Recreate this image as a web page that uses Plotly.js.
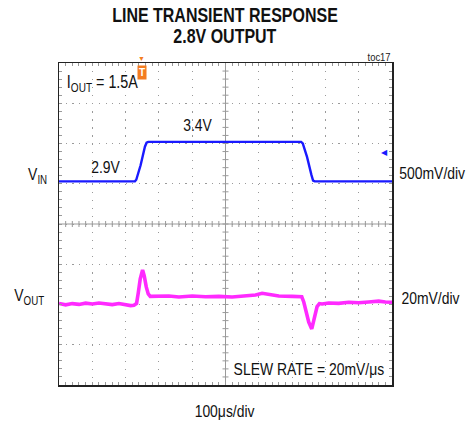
<!DOCTYPE html>
<html>
<head>
<meta charset="utf-8">
<script src="https://cdn.plot.ly/plotly-3.0.1.min.js"></script>
<style>
html,body{margin:0;padding:0;background:#fff;}
#chart{width:472px;height:422px;}
.narrow-text{transform-box:fill-box;transform-origin:center;transform:scaleX(0.82);}
</style>
</head>
<body>
<div id="chart"></div>
<script>
// Time axis (microseconds), 100 us/div, 10 divisions
const timeRange = [0, 1000];
// VIN trace (volts)
const vinTime = [0, 100, 200, 228, 232, 245, 258, 263, 268, 400, 500, 600, 727, 732, 745, 758, 763, 768, 900, 1000];
const vinVolts = [2.90, 2.90, 2.90, 2.90, 2.92, 3.10, 3.33, 3.38, 3.39, 3.39, 3.39, 3.39, 3.39, 3.37, 3.20, 2.98, 2.91, 2.90, 2.90, 2.90];
// VOUT trace (mV deviation from 2.8V baseline)
const voutTime = [0, 20, 40, 60, 80, 100, 120, 140, 160, 180, 200, 215, 225, 233, 238, 244, 251, 256, 262, 268, 274, 285, 300, 330, 360, 400, 440, 480, 520, 560, 590, 610, 630, 660, 700, 729, 735, 742, 750, 759, 765, 770, 775, 782, 790, 810, 840, 870, 900, 930, 960, 980, 1000];
const voutMv = [0.3, -0.4, 0.2, -0.2, 0.4, 0.0, 0.5, 0.0, -0.3, 0.2, -0.5, -0.8, -0.6, 0.3, 5.5, 12.5, 16.9, 14.0, 8.5, 5.0, 3.8, 3.9, 3.6, 4.0, 3.5, 4.0, 3.6, 3.8, 3.5, 3.9, 4.5, 5.3, 4.6, 4.0, 3.8, 3.6, 1.0, -4.0, -9.0, -12.4, -8.5, -4.0, -1.3, 0.2, 0.0, 0.5, 0.3, 0.9, 0.6, 1.0, 1.4, 1.0, 0.9];
// Axis scales (per division)
const vinPerDiv = 0.5;   // 500mV/div
const voutPerDiv = 20;   // 20mV/div
const vinCenter = 2.37;  // value at screen centre
const voutCenter = 39.75;
const triggerTime = 248;

const font = "Liberation Sans, Arial, sans-serif";
const gridCol = "#9a9a9a";
const textCol = "#111";

const traces = [
  {x: vinTime, y: vinVolts, xaxis: "x", yaxis: "y2", mode: "lines", line: {color: "#1a1aff", width: 2.4}, hoverinfo: "skip"},
  {x: voutTime, y: voutMv, xaxis: "x", yaxis: "y3", mode: "lines", line: {color: "#ff2aff", width: 3.6}, hoverinfo: "skip"}
];

// centre graticule cross with small ticks every 1/5 division
const shapes = [
  {type: "line", xref: "x", yref: "paper", x0: 500, x1: 500, y0: 0, y1: 1, line: {color: gridCol, width: 1}, layer: "below"},
  {type: "line", xref: "paper", yref: "y", x0: 0, x1: 1, y0: 0, y1: 0, line: {color: gridCol, width: 1}, layer: "below"}
];
for (let t = 20; t < 1000; t += 20) {
  shapes.push({type: "line", xref: "x", yref: "y", ysizemode: "pixel", yanchor: 0, x0: t, x1: t, y0: -3, y1: 3, line: {color: gridCol, width: 1}, layer: "below"});
}
for (let d = -3.8; d < 4; d += 0.2) {
  shapes.push({type: "line", xref: "x", yref: "y", xsizemode: "pixel", xanchor: 500, x0: -3, x1: 3, y0: d, y1: d, line: {color: gridCol, width: 1}, layer: "below"});
}

const ann = (text, x, y, size, extra) => Object.assign({text: text, xref: "paper", yref: "paper", x: x, y: y, xanchor: "center", yanchor: "middle", showarrow: false, font: {family: font, size: size, color: textCol}}, extra || {});

const layout = {
  width: 472, height: 422,
  margin: {l: 59, r: 80, t: 63, b: 37},
  paper_bgcolor: "#fff", plot_bgcolor: "#fff",
  showlegend: false,
  title: {
    text: "LINE TRANSIENT RESPONSE",
    font: {family: font, size: 19.5, color: textCol, weight: "bold"},
    x: 225 / 472, xref: "container", xanchor: "center",
    y: 1 - 15 / 422, yref: "container", yanchor: "middle"
  },
  xaxis: {
    range: timeRange, dtick: 100, tick0: 0,
    showgrid: true, gridcolor: gridCol, griddash: "1.2px,6.85px", gridwidth: 1,
    showline: true, linecolor: "#222", linewidth: 1.5, mirror: "allticks",
    ticks: "inside", ticklen: 3, tickcolor: gridCol,
    minor: {dtick: 20, ticks: "inside", ticklen: 3, tickcolor: gridCol, showgrid: false},
    showticklabels: false, zeroline: false, fixedrange: true
  },
  yaxis: {
    range: [-4, 4], dtick: 1, tick0: 0,
    showgrid: true, gridcolor: gridCol, griddash: "1.2px,5.45px", gridwidth: 1,
    showline: true, linecolor: "#222", linewidth: 1.5, mirror: "allticks",
    ticks: "inside", ticklen: 3, tickcolor: gridCol,
    minor: {dtick: 0.2, ticks: "inside", ticklen: 3, tickcolor: gridCol, showgrid: false},
    showticklabels: false, zeroline: false, fixedrange: true
  },
  yaxis2: {overlaying: "y", range: [vinCenter - 4 * vinPerDiv, vinCenter + 4 * vinPerDiv], visible: false, fixedrange: true},
  yaxis3: {overlaying: "y", range: [voutCenter - 4 * voutPerDiv, voutCenter + 4 * voutPerDiv], visible: false, fixedrange: true},
  shapes: shapes,
  annotations: [
    ann("<b>2.8V OUTPUT</b>", (225 - 59) / 333, (385 - 36) / 322, 19.5),
    ann("toc17", (379 - 59) / 333, (385 - 57) / 322, 11, {font: {family: font, size: 11.5, color: "#222"}}),
    ann("I<sub>OUT</sub> = 1.5A", (102 - 59) / 333, (385 - 84) / 322, 17.5),
    ann("3.4V", (198 - 59) / 333, (385 - 125) / 322, 17),
    ann("2.9V", (105.5 - 59) / 333, (385 - 167.5) / 322, 17),
    ann("V<sub>IN</sub>", (37 - 59) / 333, (385 - 176) / 322, 17),
    ann("500mV/div", (432 - 59) / 333, (385 - 173) / 322, 17),
    ann("V<sub>OUT</sub>", (29 - 59) / 333, (385 - 297) / 322, 17),
    ann("20mV/div", (431 - 59) / 333, (385 - 298) / 322, 17),
    ann("SLEW RATE = 20mV/μs", (308.5 - 59) / 333, (385 - 369) / 322, 17),
    ann("100μs/div", (225 - 59) / 333, (385 - 411) / 322, 17),
    {text: "<b>T</b>", xref: "x", yref: "paper", x: triggerTime, y: 0.995, xanchor: "center", yanchor: "top", showarrow: false, bgcolor: "#f47c20", borderpad: 1, font: {family: font, size: 10, color: "#fff"}},
    {text: "▼", xref: "x", yref: "paper", x: triggerTime, y: 0.998, xanchor: "center", yanchor: "bottom", showarrow: false, font: {family: font, size: 7, color: "#f47c20"}},
    {text: "◀", xref: "paper", yref: "paper", x: 0.995, y: (385 - 152) / 322, xanchor: "right", yanchor: "middle", showarrow: false, font: {family: font, size: 8, color: "#1a1aff"}}
  ]
};

const narrowCount = 11; // first annotations use the narrow (condensed) look
Plotly.newPlot("chart", traces, layout, {staticPlot: true, displayModeBar: false}).then(function (gd) {
  gd.querySelectorAll(".annotation").forEach(function (g) {
    const idx = +g.getAttribute("data-index");
    if (idx < narrowCount) {
      g.querySelectorAll(".annotation-text").forEach(function (t) { t.classList.add("narrow-text"); });
    }
  });
  gd.querySelectorAll(".gtitle").forEach(function (t) { t.classList.add("narrow-text"); });
});
</script>
</body>
</html>
